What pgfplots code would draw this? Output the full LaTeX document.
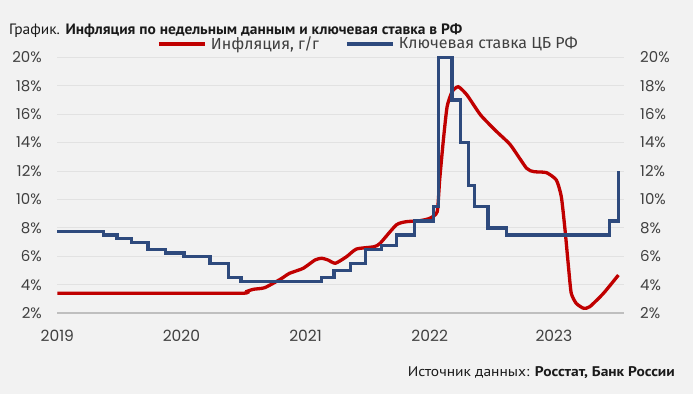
\documentclass[border=0pt]{standalone}
\usepackage{fontspec}
\setmainfont{PT Sans}
\newfontfamily\tickfont{Poppins}
\newfontfamily\legfont{Fira Sans}
\usepackage{graphicx}
\usepackage{pgfplots}
\pgfplotsset{compat=1.18}
\definecolor{infl}{HTML}{C00000}
\definecolor{rate}{HTML}{2E4A7D}
\definecolor{bgc}{HTML}{F2F2F2}
\definecolor{gridc}{HTML}{E2E2E2}
\definecolor{axc}{HTML}{BFBFBF}
\definecolor{txtc}{HTML}{404040}
\definecolor{titc}{HTML}{1A1A1A}
\begin{document}
\begin{tikzpicture}
\path[fill=bgc, use as bounding box] (0pt,0pt) rectangle (693pt,-394pt);
\begin{axis}[
  at={(57.3pt,-313.3pt)}, anchor=south west,
  width=566.7pt, height=256pt, scale only axis,
  xmin=2019.09, xmax=2023.655, ymin=2, ymax=20,
  axis x line*=bottom, axis y line*=left,
  y axis line style={draw=none},
  x axis line style={draw=axc, line width=2pt},
  major tick length=0pt,
  ymajorgrids, grid style={draw=gridc, line width=1pt},
  ytick={2,4,...,20},
  yticklabels={2\%,4\%,6\%,8\%,10\%,12\%,14\%,16\%,18\%,20\%},
  xtick={2019.09,2020.09,2021.09,2022.09,2023.09},
  xticklabels={2019,2020,2021,2022,2023},
  yticklabel style={font=\fontsize{15}{15}\selectfont\tickfont, text=txtc, inner sep=0pt, anchor=east},
  yticklabel shift=15.3pt,
  xticklabel style={font=\fontsize{15.5}{15.5}\selectfont\tickfont, text=txtc, inner sep=0pt, anchor=base},
  xticklabel shift=28.4pt,
  clip=false,
  legend columns=2,
  legend style={at={(axis description cs:0.1759,1.0528)}, anchor=west,
    draw=none, fill=none, inner sep=0pt, outer sep=0pt,
    nodes={inner sep=0pt, font=\fontsize{16}{16}\selectfont\legfont, text=txtc},
    /tikz/every odd column/.append style={column sep=4pt},
    /tikz/every even column/.append style={column sep=26pt}},
  legend image code/.code={\draw[#1, line width=4pt] (0pt,0pt) -- (46pt,0pt);},
]
\addplot[infl, line width=3.3pt, smooth, tension=0.35] coordinates {
(2019.09,3.41) (2019.8,3.41) (2020.575,3.41) (2020.62,3.55) (2020.67,3.69)
(2020.76,3.80) (2020.886,4.39) (2020.96,4.81) (2021.07,5.16) (2021.166,5.75)
(2021.22,5.87) (2021.27,5.75) (2021.33,5.52) (2021.42,5.98) (2021.50,6.52)
(2021.64,6.68) (2021.69,6.92) (2021.82,8.21) (2021.90,8.44) (2022.01,8.51)
(2022.09,8.68) (2022.15,9.14) (2022.17,11.37) (2022.20,14.19) (2022.23,16.53)
(2022.27,17.58) (2022.32,17.93) (2022.39,17.35) (2022.50,15.94) (2022.63,14.77)
(2022.74,13.84) (2022.87,12.2) (2022.93,11.96) (2023.03,11.89) (2023.11,11.37)
(2023.15,10.2) (2023.18,7.86) (2023.21,5.05) (2023.23,3.41) (2023.27,2.70)
(2023.33,2.35) (2023.38,2.47) (2023.49,3.41) (2023.61,4.69)
};
\addlegendentry{Инфляция, г/г}
\addplot[rate, line width=3.3pt, const plot, line join=miter] coordinates {
(2019.09,7.75) (2019.46,7.5) (2019.57,7.25) (2019.69,7.0) (2019.82,6.5)
(2019.96,6.25) (2020.11,6.0) (2020.32,5.5) (2020.47,4.5) (2020.57,4.25)
(2021.22,4.5) (2021.32,5.0) (2021.45,5.5) (2021.57,6.5) (2021.70,6.75)
(2021.82,7.5) (2021.97,8.5) (2022.12,9.5) (2022.16,20) (2022.27,17)
(2022.34,14) (2022.40,11) (2022.45,9.5) (2022.56,8) (2022.71,7.5)
(2023.54,8.5) (2023.61,12)
};
\addlegendentry{Ключевая ставка ЦБ РФ}
\end{axis}
\begin{axis}[
  at={(57.3pt,-313.3pt)}, anchor=south west,
  width=566.7pt, height=256pt, scale only axis,
  xmin=2019.09, xmax=2023.655, ymin=2, ymax=20,
  hide x axis, axis y line*=right,
  y axis line style={draw=none},
  major tick length=0pt,
  ytick={2,4,...,20},
  yticklabels={2\%,4\%,6\%,8\%,10\%,12\%,14\%,16\%,18\%,20\%},
  yticklabel style={font=\fontsize{15}{15}\selectfont\tickfont, text=txtc, inner sep=0pt, anchor=west},
  yticklabel shift=16pt,
]
\addplot[draw=none] coordinates {(2020,5) (2021,6)};
\end{axis}
\node[anchor=base west, inner sep=0pt, text=titc] at (9pt,-34.5pt)
  {\resizebox{453pt}{\height}{\fontsize{15}{15}\selectfont График. \textbf{Инфляция по недельным данным и ключевая ставка в РФ}}};
\node[anchor=base east, inner sep=0pt, text=titc] at (675pt,-376pt)
  {\resizebox{267pt}{\height}{\fontsize{14}{14}\selectfont Источник данных: \textbf{Росстат, Банк России}}};
\end{tikzpicture}
\end{document}
